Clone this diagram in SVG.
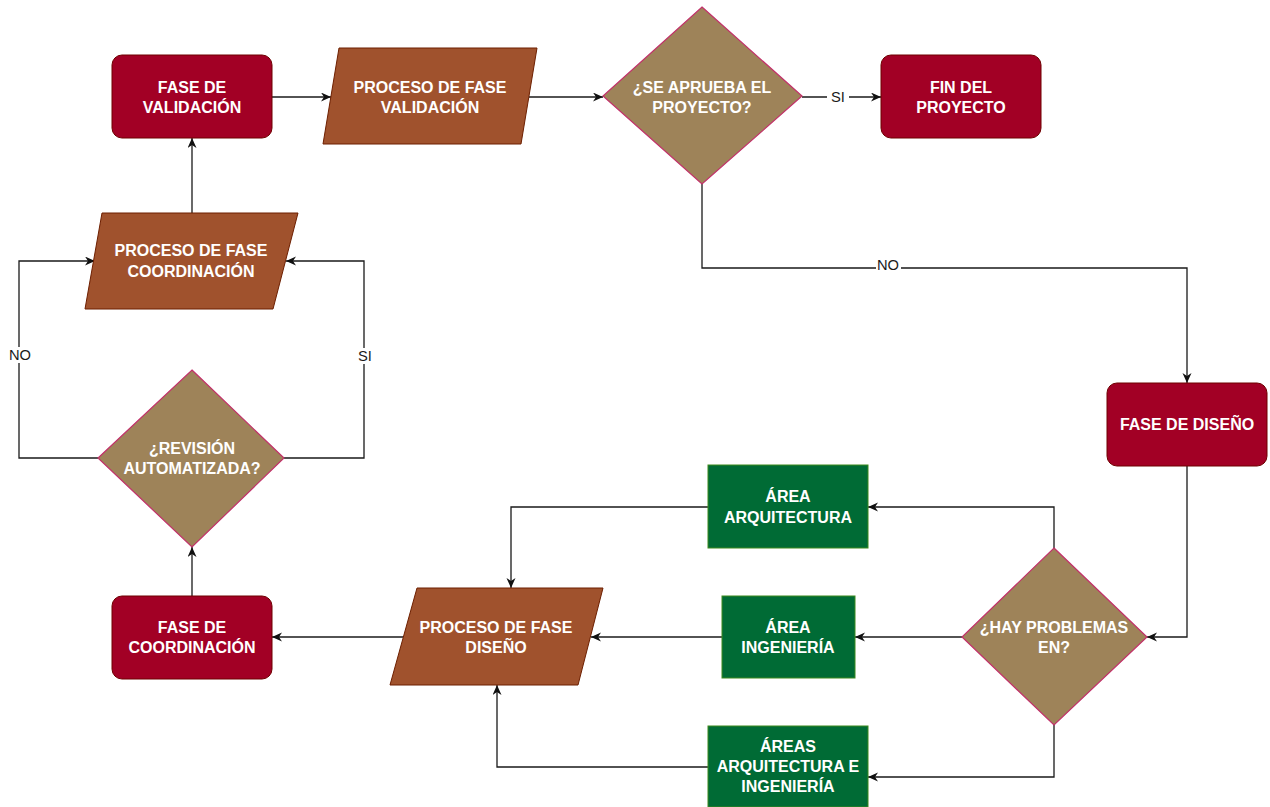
<svg xmlns="http://www.w3.org/2000/svg" width="1270" height="807" viewBox="0 0 1270 807">
  <defs>
    <marker id="arrow" markerUnits="userSpaceOnUse" markerWidth="12" markerHeight="10" refX="10" refY="4.5" orient="auto">
      <path d="M0,0 L10,4.5 L0,9 L3,4.5 Z" fill="#111"/>
    </marker>
    <style>
      .phase { fill: #a20025; stroke: #6f0000; stroke-width: 1; }
      .proc { fill: #a0522d; stroke: #6d1f00; stroke-width: 1; }
      .dec { fill: #9e8359; stroke: #c2306a; stroke-width: 1.2; }
      .area { fill: #006b35; stroke: #3c8a1e; stroke-width: 1; }
      .t { font-family: "Liberation Sans", Arial, sans-serif; font-weight: bold; font-size: 16px; fill: #ffffff; text-anchor: middle; }
      .edge { fill: none; stroke: #1a1a1a; stroke-width: 1.3; marker-end: url(#arrow); }
      .lbl { font-family: "Liberation Sans", Arial, sans-serif; font-size: 14.7px; fill: #1a1a1a; text-anchor: middle; }
      .lblbg { fill: #ffffff; }
    </style>
  </defs>

  <rect width="1270" height="807" fill="#ffffff"/>

  <!-- connectors -->
  <g id="connectors">
    <path class="edge" d="M272,97 L331,97"/>
    <path class="edge" d="M529,97 L603,97"/>
    <path class="edge" d="M802,97 L881,97"/>
    <path class="edge" d="M702,184 L702,268 L1187,268 L1187,383"/>
    <path class="edge" d="M1187,466 L1187,637 L1147,637"/>
    <path class="edge" d="M1054,548 L1054,507 L868,507"/>
    <path class="edge" d="M962,637 L855,637"/>
    <path class="edge" d="M1054,725 L1054,777 L868,777"/>
    <path class="edge" d="M708,507 L511,507 L511,588"/>
    <path class="edge" d="M722,637 L591,637"/>
    <path class="edge" d="M708,767 L497,767 L497,685"/>
    <path class="edge" d="M403,637 L272,637"/>
    <path class="edge" d="M192,596 L192,547"/>
    <path class="edge" d="M98,458 L19,458 L19,261 L95,261"/>
    <path class="edge" d="M284,458 L364,458 L364,261 L286,261"/>
    <path class="edge" d="M192,213 L192,138"/>

    <!-- edge labels -->
    <rect class="lblbg" x="827" y="89" width="22" height="16"/>
    <text class="lbl" x="838" y="102">SI</text>
    <rect class="lblbg" x="876" y="258" width="25" height="16"/>
    <text class="lbl" x="888" y="270">NO</text>
    <rect class="lblbg" x="8" y="347" width="24" height="16"/>
    <text class="lbl" x="20" y="360">NO</text>
    <rect class="lblbg" x="356" y="348" width="18" height="16"/>
    <text class="lbl" x="365" y="361">SI</text>
  </g>

  <!-- nodes -->
  <g id="fase-validacion">
    <rect class="phase" x="112" y="55" width="160" height="83" rx="10"/>
    <text class="t" x="192" y="93">FASE DE</text>
    <text class="t" x="192" y="113">VALIDACIÓN</text>
  </g>

  <g id="proceso-validacion">
    <polygon class="proc" points="339,48 537,48 521,144 323,144"/>
    <text class="t" x="430" y="93">PROCESO DE FASE</text>
    <text class="t" x="430" y="113">VALIDACIÓN</text>
  </g>

  <g id="decision-aprueba">
    <polygon class="dec" points="702,7 802,96 702,184 603,96"/>
    <text class="t" x="702" y="93">¿SE APRUEBA EL</text>
    <text class="t" x="702" y="113">PROYECTO?</text>
  </g>

  <g id="fin-proyecto">
    <rect class="phase" x="881" y="55" width="160" height="83" rx="10"/>
    <text class="t" x="961" y="93">FIN DEL</text>
    <text class="t" x="961" y="113">PROYECTO</text>
  </g>

  <g id="fase-diseno">
    <rect class="phase" x="1107" y="383" width="160" height="83" rx="10"/>
    <text class="t" x="1187" y="429.5">FASE DE DISEÑO</text>
  </g>

  <g id="decision-problemas">
    <polygon class="dec" points="1054,548 1147,637 1054,725 962,637"/>
    <text class="t" x="1054" y="633">¿HAY PROBLEMAS</text>
    <text class="t" x="1054" y="653">EN?</text>
  </g>

  <g id="area-arquitectura">
    <rect class="area" x="708" y="465" width="160" height="83"/>
    <text class="t" x="788" y="502">ÁREA</text>
    <text class="t" x="788" y="522.5">ARQUITECTURA</text>
  </g>

  <g id="area-ingenieria">
    <rect class="area" x="722" y="596" width="133" height="82"/>
    <text class="t" x="788" y="632.5">ÁREA</text>
    <text class="t" x="788" y="652.5">INGENIERÍA</text>
  </g>

  <g id="areas-ambas">
    <rect class="area" x="708" y="726" width="160" height="81"/>
    <text class="t" x="788" y="752">ÁREAS</text>
    <text class="t" x="788" y="772">ARQUITECTURA E</text>
    <text class="t" x="788" y="792">INGENIERÍA</text>
  </g>

  <g id="proceso-diseno">
    <polygon class="proc" points="417,588 603,588 578,685 390,685"/>
    <text class="t" x="496" y="632.5">PROCESO DE FASE</text>
    <text class="t" x="496" y="652.5">DISEÑO</text>
  </g>

  <g id="fase-coordinacion">
    <rect class="phase" x="112" y="596" width="160" height="83" rx="10"/>
    <text class="t" x="192" y="632.5">FASE DE</text>
    <text class="t" x="192" y="652.5">COORDINACIÓN</text>
  </g>

  <g id="decision-revision">
    <polygon class="dec" points="192,370 284,458 192,547 98,458"/>
    <text class="t" x="192" y="454">¿REVISIÓN</text>
    <text class="t" x="192" y="474">AUTOMATIZADA?</text>
  </g>

  <g id="proceso-coordinacion">
    <polygon class="proc" points="102,213 298,213 273,309 85,309"/>
    <text class="t" x="191" y="256">PROCESO DE FASE</text>
    <text class="t" x="191" y="277">COORDINACIÓN</text>
  </g>
</svg>
